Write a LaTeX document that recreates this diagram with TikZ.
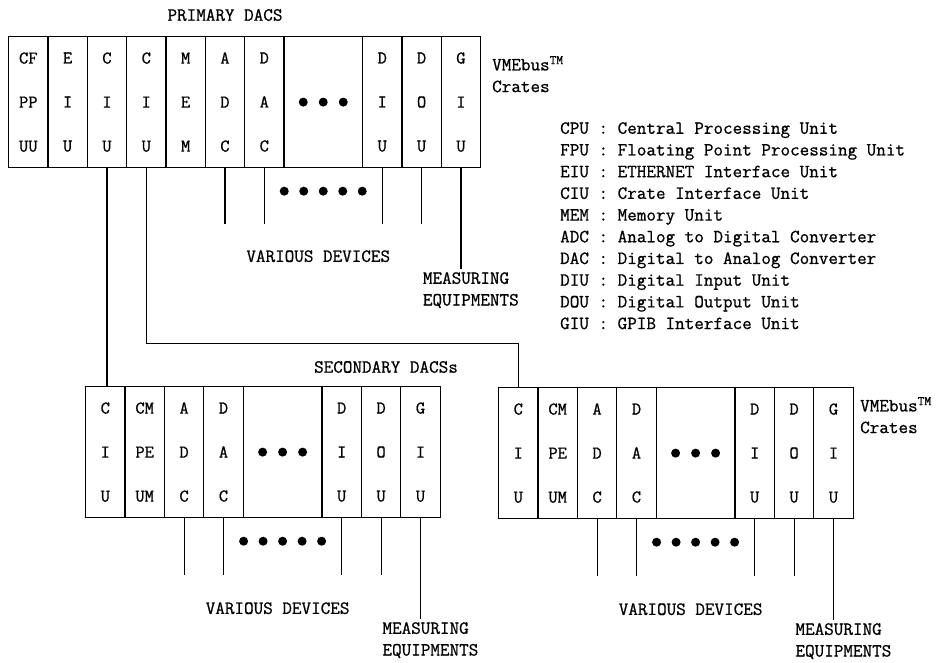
\documentclass[tikz,border=0pt]{standalone}
\usepackage{fontspec}
\setmainfont{Latin Modern Mono}[FakeBold=0.8]
\usetikzlibrary{positioning, calc}

\tikzset{
  slot/.style={draw, line width=1.2pt, minimum width=39.4, minimum height=131,
    inner sep=0pt, anchor=north west, align=center, font=\fontsize{18}{44}\selectfont},
  lbl/.style={inner sep=0pt, font=\fontsize{18.6}{21.7}\selectfont},
  meq/.style={lbl, align=left, anchor=north west, outer sep=3pt},
  wire/.style={line width=1.2pt},
}

\begin{document}
\begin{tikzpicture}[x=1pt, y=-1pt]
  \useasboundingbox (0,0) rectangle (944,662);

  % primary crate
  \node[lbl] (ptitle) at (225,15) {PRIMARY DACS};
  \foreach \nm/\k/\txt in {pcpu/0/{CF\\PP\\UU}, peiu/1/{E\\I\\U}, pciua/2/{C\\I\\U},
      pciub/3/{C\\I\\U}, pmem/4/{M\\E\\M}, padc/5/{A\\D\\C}, pdac/6/{D\\A\\C},
      pdiu/9/{D\\I\\U}, pdou/10/{D\\O\\U}, pgiu/11/{G\\I\\U}}
    \node[slot] (\nm) at (8+39.33*\k,36) {\txt};
  \node[slot, minimum width=78.67] (pdots) at (8+39.33*7,36) {};
  \foreach \d in {-1,0,1}
    \fill ([xshift=\d*20pt]pdots.center) circle (4.5);
  \foreach \d in {-2,...,2}
    \fill ([xshift=\d*19.5pt, yshift=-23pt]pdots.south) circle (4.5);
  \foreach \s in {padc,pdac,pdiu,pdou}
    \draw[wire] (\s.south) -- ++(0,56);
  \node[lbl] (pvar) at ([xshift=-5pt, yshift=-88pt]pdots.south) {VARIOUS DEVICES};
  \node[meq] (pmeq) at ([xshift=-41pt, yshift=-101pt]pgiu.south) {MEASURING\\EQUIPMENTS};
  \draw[wire] (pgiu.south) -- (pgiu.south |- pmeq.north);
  \node[lbl, align=left, anchor=north west] (pvme) at (492,56) {VMEbus\textsuperscript{TM}\\Crates};

  % legend
  \node[lbl, align=left, anchor=north west] (legend) at (560,122) {%
    CPU : Central Processing Unit\\
    FPU : Floating Point Processing Unit\\
    EIU : ETHERNET Interface Unit\\
    CIU : Crate Interface Unit\\
    MEM : Memory Unit\\
    ADC : Analog to Digital Converter\\
    DAC : Digital to Analog Converter\\
    DIU : Digital Input Unit\\
    DOU : Digital Output Unit\\
    GIU : GPIB Interface Unit};

  % secondary crates
  \node[lbl] (stitle) at (386,367) {SECONDARY DACSs};
  \foreach \cn/\x/\y in {s/85/386, r/498/387} {
    \foreach \nm/\k/\txt in {ciu/0/{C\\I\\U}, cpu/1/{CM\\PE\\UM}, adc/2/{A\\D\\C},
        dac/3/{D\\A\\C}, diu/6/{D\\I\\U}, dou/7/{D\\O\\U}, giu/8/{G\\I\\U}}
      \node[slot] (\cn\nm) at (\x+39.4*\k,\y) {\txt};
    \node[slot, minimum width=78.8] (\cn dots) at (\x+39.4*4,\y) {};
    \foreach \d in {-1,0,1}
      \fill ([xshift=\d*20pt]\cn dots.center) circle (4.5);
    \foreach \d in {-2,...,2}
      \fill ([xshift=\d*19.5pt, yshift=-23pt]\cn dots.south) circle (4.5);
    \foreach \s in {adc,dac,diu,dou}
      \draw[wire] (\cn\s.south) -- ++(0,57);
    \node[lbl] (\cn var) at ([xshift=-5pt, yshift=-90pt]\cn dots.south) {VARIOUS DEVICES};
    \node[meq] (\cn meq) at ([xshift=-41pt, yshift=-101pt]\cn giu.south) {MEASURING\\EQUIPMENTS};
    \draw[wire] (\cn giu.south) -- (\cn giu.south |- \cn meq.north);
  }
  \node[lbl, align=left, anchor=north west] (rvme) at (860,397) {VMEbus\textsuperscript{TM}\\Crates};

  % links from primary to secondary crates
  \draw[wire] (pciua.south) -- (pciua.south |- sciu.north);
  \draw[wire] (pciub.south) -- ++(0,175) -| (rciu.north);
\end{tikzpicture}
\end{document}
